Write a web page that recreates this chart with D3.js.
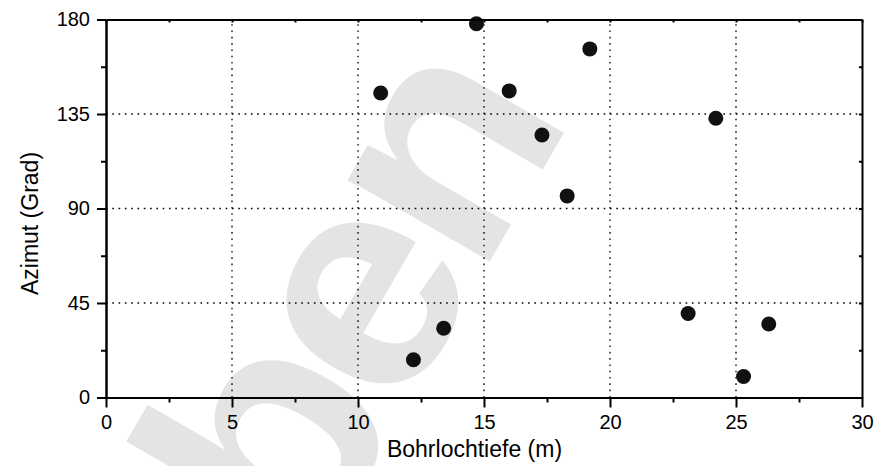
<!DOCTYPE html>
<html>
<head>
<meta charset="utf-8">
<script src="https://cdn.jsdelivr.net/npm/d3@7"></script>
<style>
  html, body { margin: 0; padding: 0; background: #fff; }
  svg { display: block; font-family: "Liberation Sans", Arial, sans-serif; }
</style>
</head>
<body>
<svg id="chart" width="886" height="466"></svg>
<script>
// ---- data ----
const depth   = [10.9, 12.2, 13.4, 14.7, 16.0, 17.3, 18.3, 19.2, 23.1, 24.2, 25.3, 26.3];
const azimuth = [145, 18, 33, 178, 146, 125, 96, 166, 40, 133, 10, 35];
const xTicks = [0, 5, 10, 15, 20, 25, 30];
const xMinorTicks = [2.5, 7.5, 12.5, 17.5, 22.5, 27.5];
const yTicks = [0, 45, 90, 135, 180];
const yMinorTicks = [22.5, 67.5, 112.5, 157.5];
const xTitle = "Bohrlochtiefe (m)";
const yTitle = "Azimut (Grad)";
const watermark = "ben";

// ---- layout ----
const svg = d3.select("#chart");
const L = 106, R = 862, T = 19.5, B = 397.5;
const x = d3.scaleLinear().domain([0, 30]).range([L, R]);
const y = d3.scaleLinear().domain([0, 180]).range([B, T]);

// watermark
svg.append("text")
  .attr("transform", "translate(372,304) rotate(-60)")
  .attr("text-anchor", "middle")
  .attr("dy", "0.26em")
  .attr("dx", "-6")
  .style("font-size", "310px")
  .style("font-weight", "bold")
  .style("letter-spacing", "-12px")
  .style("font-family", "'Liberation Sans', Arial, sans-serif")
  .attr("fill", "#e4e4e4")
  .text(watermark);

// grid
const grid = svg.append("g").attr("stroke", "#000").attr("stroke-width", 1.3)
  .attr("stroke-dasharray", "1.6,4.7");
grid.selectAll("line.v").data(xTicks.filter(d => d > 0 && d < 30)).join("line")
  .attr("class", "v")
  .attr("x1", d => x(d)).attr("x2", d => x(d))
  .attr("y1", B).attr("y2", T);
grid.selectAll("line.h").data(yTicks.filter(d => d > 0 && d < 180)).join("line")
  .attr("class", "h")
  .attr("y1", d => y(d)).attr("y2", d => y(d))
  .attr("x1", L).attr("x2", R);

// points
svg.append("g").selectAll("circle").data(depth).join("circle")
  .attr("cx", d => x(d))
  .attr("cy", (d, i) => y(azimuth[i]))
  .attr("r", 7.5)
  .attr("fill", "#111");

function styleAxis(g, fs) {
  g.select(".domain").attr("stroke", "#000").attr("stroke-width", 2);
  g.selectAll(".tick line").attr("stroke", "#000").attr("stroke-width", 2);
  g.selectAll(".tick text").attr("fill", "#000")
    .style("font-size", fs + "px")
    .style("font-family", "'Liberation Sans', Arial, sans-serif");
}

// bottom axis
const gb = svg.append("g").attr("transform", `translate(0,${B})`)
  .call(d3.axisBottom(x).tickValues(xTicks).tickSize(10).tickPadding(7).tickSizeOuter(0).tickFormat(d3.format("d")));
styleAxis(gb, 20);
const gbm = svg.append("g").attr("transform", `translate(0,${B})`)
  .call(d3.axisBottom(x).tickValues(xMinorTicks).tickSize(5).tickSizeOuter(0).tickFormat(""));
styleAxis(gbm, 20);

// left axis
const gl = svg.append("g").attr("transform", `translate(${L},0)`)
  .call(d3.axisLeft(y).tickValues(yTicks).tickSize(9).tickPadding(7).tickSizeOuter(0).tickFormat(d3.format("d")));
styleAxis(gl, 20);
const glm = svg.append("g").attr("transform", `translate(${L},0)`)
  .call(d3.axisLeft(y).tickValues(yMinorTicks).tickSize(5).tickSizeOuter(0).tickFormat(""));
styleAxis(glm, 20);

// top axis (inward ticks)
const gt = svg.append("g").attr("transform", `translate(0,${T})`)
  .call(d3.axisTop(x).tickValues(xTicks.concat(xMinorTicks)).tickSize(-3).tickSizeOuter(0).tickFormat(""));
styleAxis(gt, 20);

// right axis (inward ticks)
const gr = svg.append("g").attr("transform", `translate(${R},0)`)
  .call(d3.axisRight(y).tickValues(yTicks.concat(yMinorTicks)).tickSize(-3).tickSizeOuter(0).tickFormat(""));
styleAxis(gr, 20);

// titles
svg.append("text")
  .attr("x", 474.5).attr("y", 457)
  .attr("text-anchor", "middle")
  .style("font-size", "23px")
  .attr("fill", "#000")
  .text(xTitle);

svg.append("text")
  .attr("transform", "translate(38,223.5) rotate(-90)")
  .attr("text-anchor", "middle")
  .style("font-size", "23px")
  .attr("fill", "#000")
  .text(yTitle);
</script>
</body>
</html>
